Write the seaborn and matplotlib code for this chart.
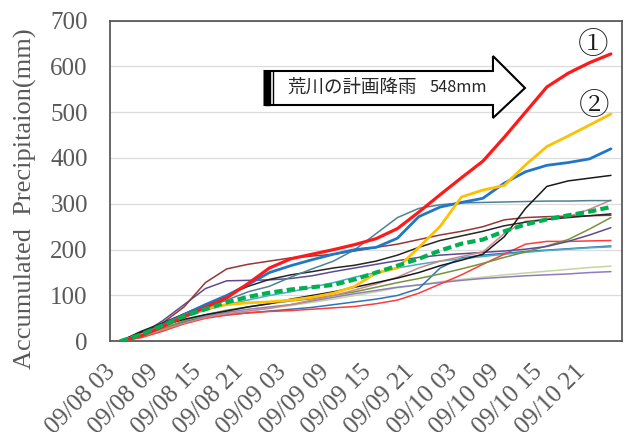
import matplotlib
matplotlib.use("Agg")
import matplotlib.pyplot as plt
from matplotlib.patches import Polygon, Rectangle
import seaborn as sns
import pandas as pd

# 3-hourly observation times
times = ["09/08 03", "09/08 06", "09/08 09", "09/08 12", "09/08 15", "09/08 18",
         "09/08 21", "09/09 00", "09/09 03", "09/09 06", "09/09 09", "09/09 12",
         "09/09 15", "09/09 18", "09/09 21", "09/10 00", "09/10 03", "09/10 06",
         "09/10 09", "09/10 12", "09/10 15", "09/10 18", "09/10 21", "09/11 00"]

# accumulated precipitation (mm) per station
red_main = [0, 12, 32, 54, 74, 95, 126, 160, 180, 190, 200, 211, 224, 246, 282, 320, 357, 393, 445, 500, 555, 585, 608, 627]
yellow_main = [0, 14, 32, 55, 72, 80, 84, 86, 90, 96, 105, 120, 149, 160, 205, 251, 315, 330, 340, 385, 425, 448, 472, 496]
blue_main = [0, 15, 36, 58, 80, 100, 124, 150, 165, 178, 190, 200, 205, 225, 272, 293, 303, 312, 345, 370, 384, 390, 398, 420]
average = [0, 15, 35, 55, 70, 85, 97, 106, 113, 118, 123, 135, 150, 165, 180, 198, 213, 222, 240, 255, 266, 275, 283, 293]
black_a = [0, 20, 35, 48, 58, 66, 75, 82, 92, 100, 108, 118, 128, 138, 150, 165, 177, 190, 228, 290, 338, 350, 356, 362]
black_b = [0, 22, 40, 60, 80, 100, 120, 135, 145, 152, 160, 166, 175, 188, 205, 220, 230, 240, 252, 260, 266, 270, 274, 278]
teal = [0, 15, 32, 52, 72, 90, 108, 120, 140, 158, 175, 200, 235, 270, 290, 298, 302, 303, 304, 305, 306, 306, 307, 307]
brown = [0, 18, 40, 75, 128, 158, 168, 175, 182, 186, 190, 197, 205, 212, 222, 232, 240, 250, 265, 270, 272, 273, 274, 275]
indigo = [0, 15, 45, 80, 115, 132, 133, 134, 137, 143, 152, 160, 168, 176, 183, 188, 191, 194, 197, 201, 207, 218, 232, 248]
rosy = [0, 10, 25, 40, 52, 60, 66, 72, 80, 90, 100, 112, 125, 140, 160, 175, 185, 195, 235, 262, 266, 272, 288, 308]
olive = [0, 12, 28, 45, 58, 68, 75, 82, 88, 93, 100, 108, 118, 128, 137, 147, 158, 170, 183, 195, 208, 222, 245, 270]
red_thin = [0, 8, 22, 38, 50, 57, 62, 65, 67, 70, 73, 76, 82, 90, 105, 125, 145, 168, 190, 212, 218, 218, 219, 220]
blue_thin = [0, 10, 25, 42, 52, 58, 62, 66, 70, 74, 80, 86, 92, 100, 115, 160, 182, 188, 192, 196, 199, 202, 205, 208]
light_blue = [0, 14, 32, 52, 68, 80, 90, 100, 108, 118, 128, 140, 150, 160, 168, 175, 180, 185, 190, 194, 198, 201, 204, 206]
light_green = [0, 10, 24, 40, 52, 60, 66, 72, 78, 85, 92, 100, 108, 117, 123, 130, 135, 140, 145, 149, 153, 157, 161, 164]
lavender = [0, 10, 25, 42, 55, 63, 70, 75, 80, 88, 96, 104, 111, 118, 123, 128, 133, 137, 140, 143, 145, 147, 150, 152]

tick_labels = times[::2]

thin_series = [
    (light_green, "#C3D69B"), (lavender, "#8E7CC3"), (blue_thin, "#2E75B6"),
    (light_blue, "#4BACC6"), (red_thin, "#FF3B3B"), (olive, "#77933C"),
    (indigo, "#5F4B8B"), (rosy, "#C88A88"), (brown, "#953735"),
    (black_b, "#262626"), (teal, "#4E8290"), (black_a, "#1A1A1A"),
]
thick_series = [
    (blue_main, "#1F77C8", 2.0),
    (yellow_main, "#FFC000", 2.0),
    (red_main, "#FF1A1A", 2.3),
]

sns.set_theme(style="white")
plt.rcParams["font.family"] = ["Liberation Serif", "DejaVu Serif"]

fig = plt.figure(figsize=(6.26, 4.32), dpi=100)
ax = fig.add_axes([110 / 626, 1 - 341.3 / 432, 512 / 626, 320.8 / 432])

idx = list(range(len(times)))
for vals, col in thin_series:
    df = pd.DataFrame({"t": idx, "mm": vals})
    sns.lineplot(data=df, x="t", y="mm", color=col, lw=1.1, ax=ax, zorder=3)
for vals, col, lw in thick_series:
    df = pd.DataFrame({"t": idx, "mm": vals})
    sns.lineplot(data=df, x="t", y="mm", color=col, lw=lw, ax=ax, zorder=4)
df = pd.DataFrame({"t": idx, "mm": average})
sns.lineplot(data=df, x="t", y="mm", color="#00B050", lw=3.0, ax=ax, zorder=5)
ax.lines[-1].set_dashes((2.0, 1.0))

ax.set_xlim(-0.47, 23.52)
ax.set_ylim(0, 700)
ax.set_yticks(range(0, 701, 100))
ax.set_xticks(idx[::2])
ax.set_xticklabels(tick_labels, rotation=45, ha="right", rotation_mode="anchor",
                   va="bottom", fontsize=18, color="#595959",
                   family=["Liberation Serif", "DejaVu Serif"])
ax.tick_params(axis="x", pad=25, length=0)
ax.tick_params(axis="y", labelsize=18, labelcolor="#595959", length=0, pad=16)
ax.yaxis.grid(True, color="#DCDCDC", lw=0.9)
ax.xaxis.grid(False)
ax.set_axisbelow(True)
for s in ax.spines.values():
    s.set_color("#5A5A5A")
    s.set_linewidth(1.3)
ax.set_xlabel("")
ax.set_ylabel("Accumulated  Precipitaion(mm)", fontsize=19, color="#595959")
ax.yaxis.set_label_coords(-0.1426, 0.443)

# planned-rainfall arrow
x0, xb, xt = 0.3018, 0.748, 0.8105
yb_lo, yb_hi, yh_lo, yh_hi, ymid = 0.7366, 0.8426, 0.6961, 0.8893, 0.7896
arrow = Polygon([(x0, yb_lo), (xb, yb_lo), (xb, yh_lo), (xt, ymid), (xb, yh_hi),
                 (xb, yb_hi), (x0, yb_hi)], closed=True, transform=ax.transAxes,
                facecolor="white", edgecolor="black", lw=1.5, zorder=6)
ax.add_patch(arrow)
ax.add_patch(Rectangle((x0, yb_lo), 0.0107, yb_hi - yb_lo, transform=ax.transAxes,
                       facecolor="black", edgecolor="black", lw=1.0, zorder=7))
ax.plot([0.3174, 0.3174], [yb_lo, yb_hi], transform=ax.transAxes, color="black",
        lw=1.0, zorder=7)
ax.text(0.3457, ymid, "荒川の計画降雨", transform=ax.transAxes, fontsize=13.3,
        family=["Noto Sans CJK JP", "DejaVu Sans"], va="center", ha="left",
        color="#262626", zorder=8)
ax.text(0.625, ymid, "548mm", transform=ax.transAxes, fontsize=11.8,
        family=["Noto Sans CJK JP", "DejaVu Sans"], va="center", ha="left",
        color="#262626", zorder=8)

# markers for the two highlighted stations
circ_fonts = ["Noto Serif CJK JP", "Noto Sans CJK JP", "DejaVu Sans"]
ax.text(0.9434, 0.9205, "①", transform=ax.transAxes, fontsize=22, family=circ_fonts,
        ha="center", va="center", color="#1A1A1A", zorder=8)
ax.text(0.9463, 0.7304, "②", transform=ax.transAxes, fontsize=22, family=circ_fonts,
        ha="center", va="center", color="#1A1A1A", zorder=8)

fig.savefig("out.png", dpi=100)
